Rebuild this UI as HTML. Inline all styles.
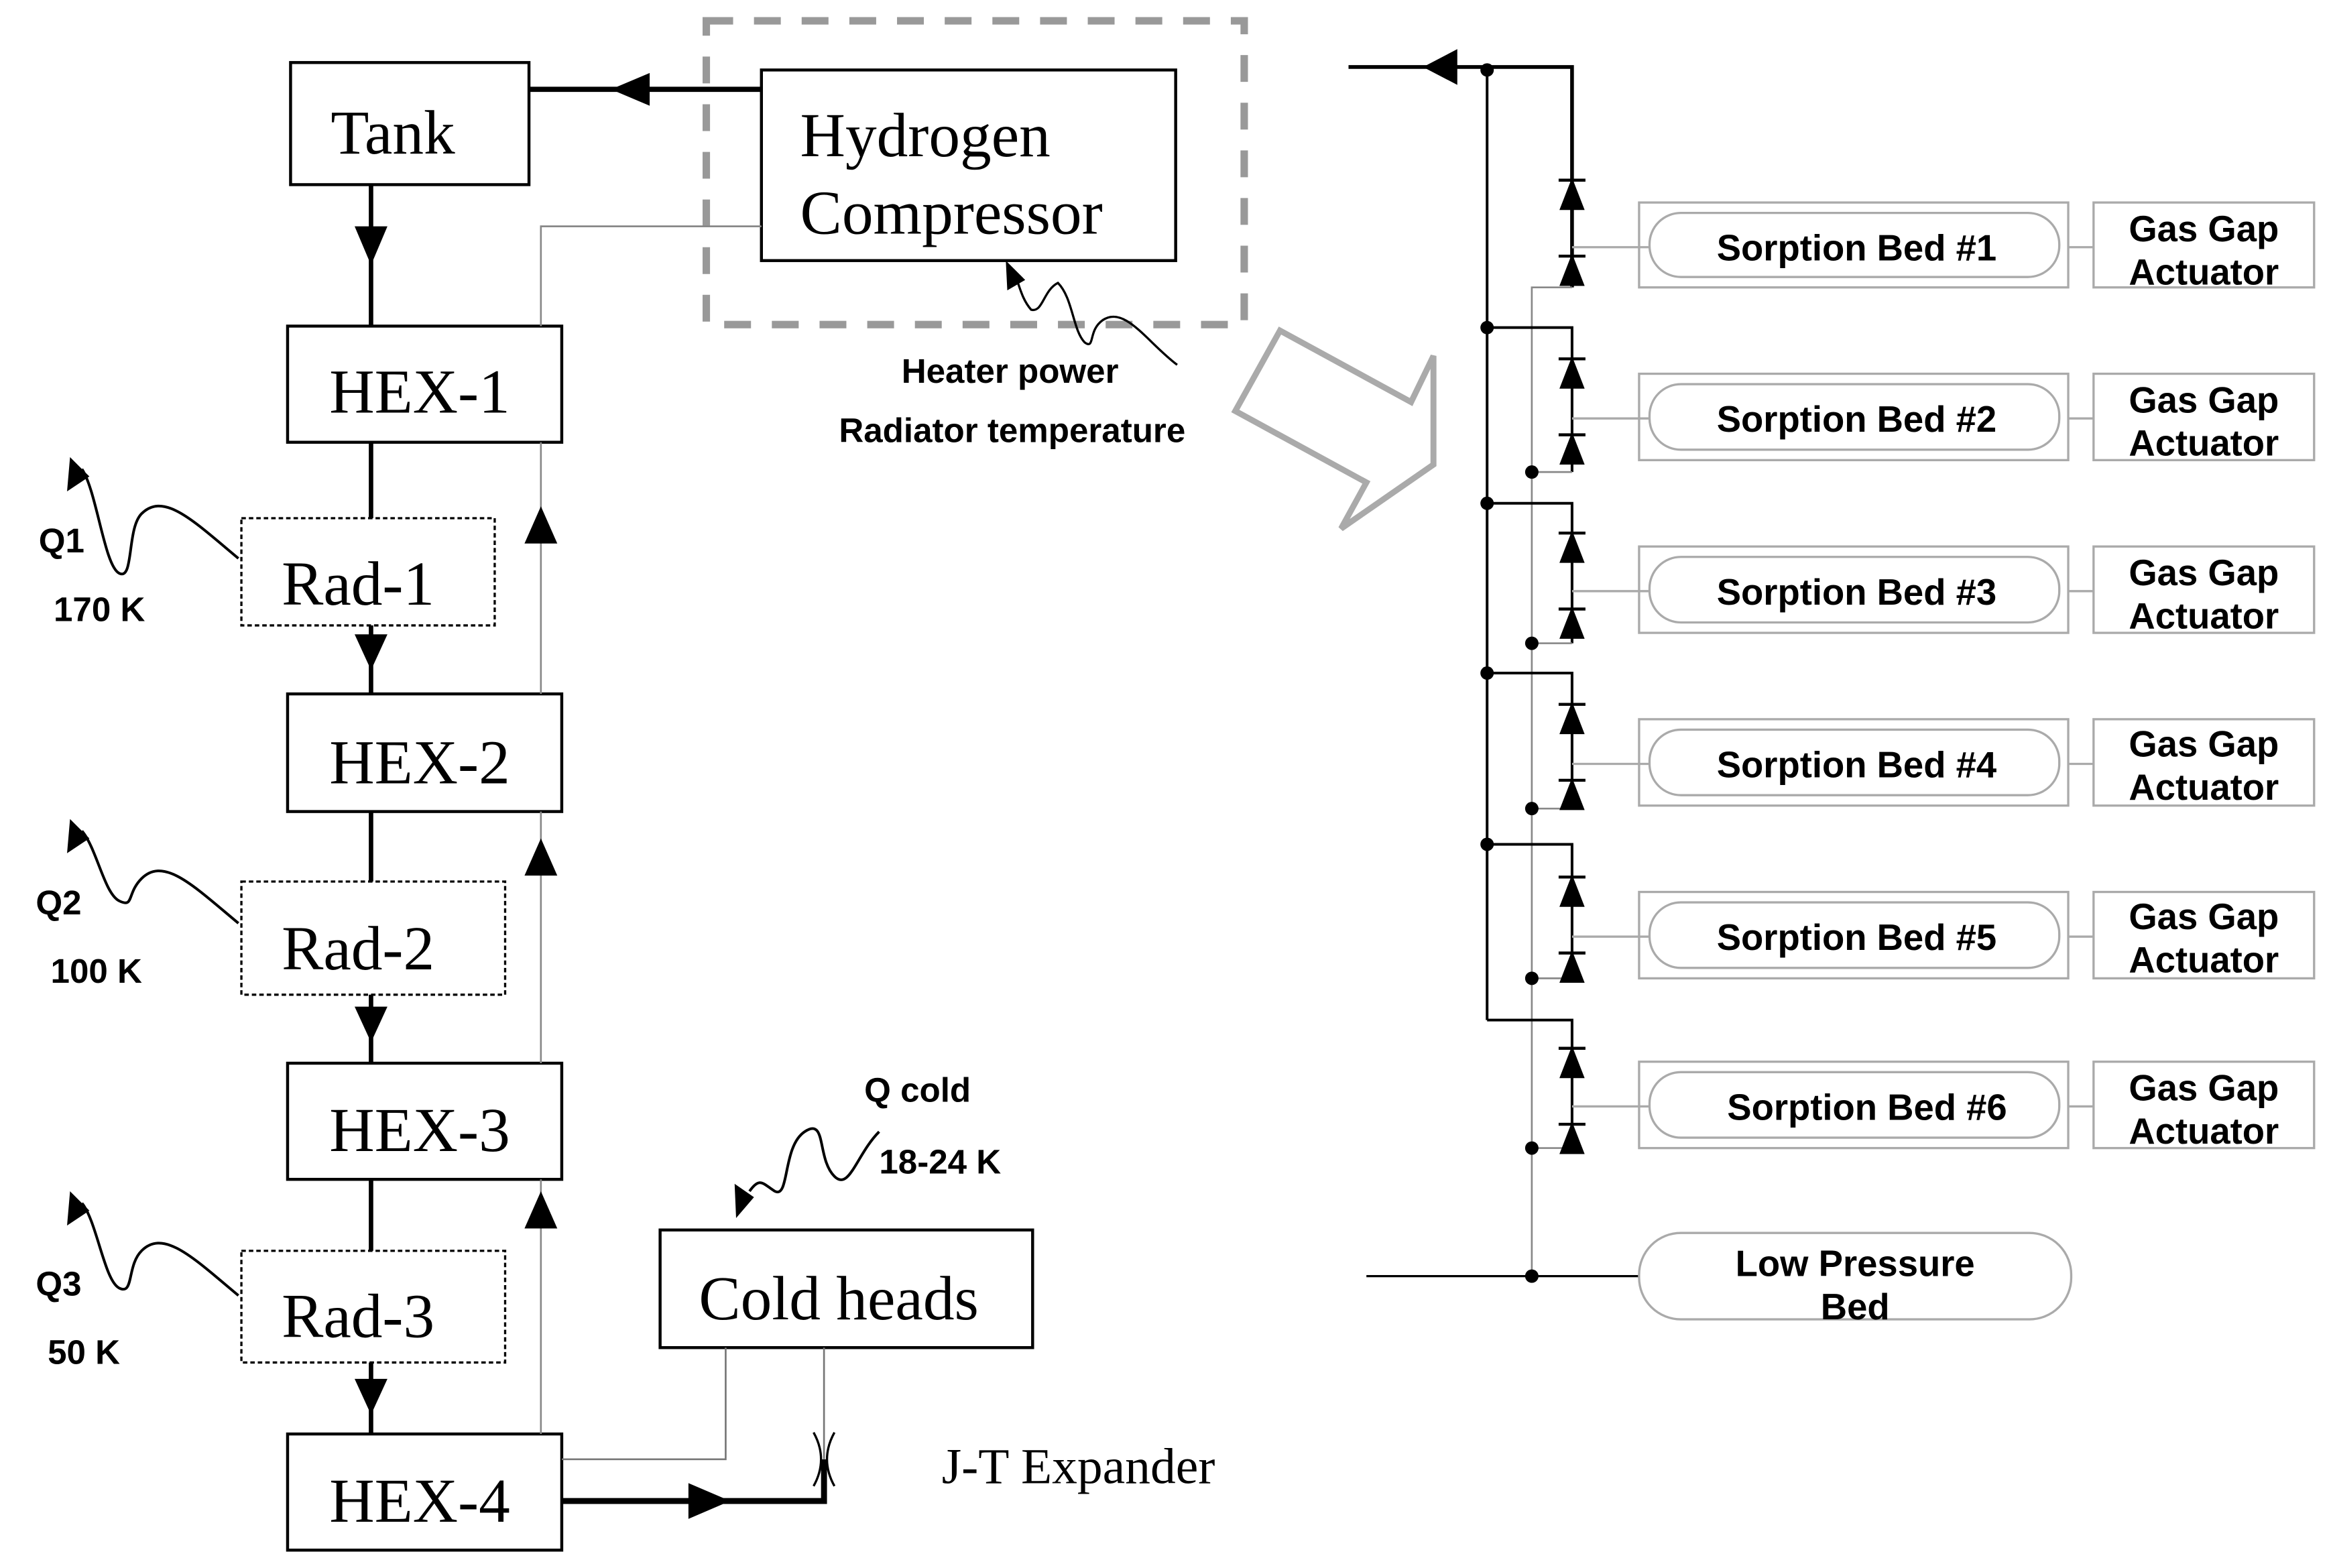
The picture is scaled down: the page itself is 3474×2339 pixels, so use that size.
<!DOCTYPE html>
<html><head><meta charset="utf-8"><style>
html,body{margin:0;padding:0;background:#fff;}
svg{display:block;}
.tr{font-family:"Liberation Serif",serif;font-size:42px;fill:#000;}
.ar{font-family:"Liberation Sans",sans-serif;font-weight:bold;fill:#000;}
</style></head><body>
<svg width="3474" height="2339" viewBox="0 0 1563 1053" preserveAspectRatio="none" xmlns="http://www.w3.org/2000/svg">
<g fill="none" stroke="#000">
<rect x="195" y="42" width="160" height="82" stroke-width="2"/>
<rect x="511" y="47" width="278" height="128" stroke-width="2"/>
<rect x="474" y="14" width="361" height="204" stroke="#999" stroke-width="5" stroke-dasharray="18,14"/>
<rect x="193" y="219" width="184" height="78" stroke-width="2"/>
<rect x="193" y="466" width="184" height="79" stroke-width="2"/>
<rect x="193" y="714" width="184" height="78" stroke-width="2"/>
<rect x="193" y="963" width="184" height="78" stroke-width="2"/>
<rect x="162" y="348" width="170" height="72" stroke-width="1.5" stroke-dasharray="3,2"/>
<rect x="162" y="592" width="177" height="76" stroke-width="1.5" stroke-dasharray="3,2"/>
<rect x="162" y="840" width="177" height="75" stroke-width="1.5" stroke-dasharray="3,2"/>
<rect x="443" y="826" width="250" height="79" stroke-width="2"/>
<path d="M355 60 H511" stroke-width="3.5"/>
<path d="M249 124 V219 M249 297 V348 M249 420 V466 M249 545 V592 M249 668 V714 M249 792 V840 M249 915 V963" stroke-width="3"/>
<path d="M377 1008 H553 V980" stroke-width="4"/>
<path d="M363 963 V792 M363 714 V545 M363 466 V297 M363 219 V152 H511" stroke="#888" stroke-width="1.2"/>
<path d="M377 980 H487 V905 M553 980 V905" stroke="#777" stroke-width="1.2"/>
<path d="M546 962 Q556 980 546 998 M560 962 Q550 980 560 998" stroke-width="1.5"/>
<path d="M160 375 C130 350 110 330 95 345 C85 355 90 390 80 385 C70 380 65 330 55 315" stroke-width="1.8"/>
<path d="M160 620 C130 595 110 575 95 590 C85 600 90 610 80 605 C70 600 65 570 55 558" stroke-width="1.8"/>
<path d="M160 870 C130 845 110 825 95 840 C85 850 90 870 80 865 C70 860 65 820 55 808" stroke-width="1.8"/>
<path d="M590 760 C575 775 570 800 560 790 C548 778 555 750 540 760 C525 770 530 805 520 800 C512 795 510 790 503 800" stroke-width="1.8"/>
<path d="M790 245 C770 230 755 205 740 215 C730 222 735 235 728 230 C720 222 720 200 710 190 C700 195 700 210 692 208 C685 200 684 190 680 182" stroke-width="1.5"/>
<path d="M905 45 H1055 V193" stroke-width="2.5"/>
<path d="M998 45 V685" stroke-width="1.8"/>
<path d="M1055 193 H1028 V857" stroke="#888" stroke-width="1.2"/>
<path d="M998 220 H1055 V317 M998 338 H1055 V432 M998 452 H1055 V543 M998 567 H1055 V657 M998 685 H1055 V771" stroke-width="1.8"/>
<path d="M1055 317 H1028 M1055 432 H1028 M1055 543 H1028 M1055 657 H1028 M1055 771 H1028" stroke="#888" stroke-width="1.2"/>
<path d="M917 857 H1100" stroke-width="1.5"/>
<g stroke="#aaa" stroke-width="1.5">
<rect x="1100" y="136" width="288" height="57"/><rect x="1405" y="136" width="148" height="57"/>
<rect x="1100" y="251" width="288" height="58"/><rect x="1405" y="251" width="148" height="58"/>
<rect x="1100" y="367" width="288" height="58"/><rect x="1405" y="367" width="148" height="58"/>
<rect x="1100" y="483" width="288" height="58"/><rect x="1405" y="483" width="148" height="58"/>
<rect x="1100" y="599" width="288" height="58"/><rect x="1405" y="599" width="148" height="58"/>
<rect x="1100" y="713" width="288" height="58"/><rect x="1405" y="713" width="148" height="58"/>
<rect x="1107" y="143" width="275" height="43" rx="21"/>
<rect x="1107" y="258" width="275" height="44" rx="21"/>
<rect x="1107" y="374" width="275" height="44" rx="21"/>
<rect x="1107" y="490" width="275" height="44" rx="21"/>
<rect x="1107" y="606" width="275" height="44" rx="21"/>
<rect x="1107" y="720" width="275" height="44" rx="21"/>
<rect x="1100" y="828" width="290" height="58" rx="28"/>
<path d="M1055 166 H1107 M1388 166 H1405 M1055 281 H1107 M1388 281 H1405 M1055 397 H1107 M1388 397 H1405 M1055 513 H1107 M1388 513 H1405 M1055 629 H1107 M1388 629 H1405 M1055 743 H1107 M1388 743 H1405"/>
</g>
<polygon points="859,222 947,270 962,239 962,312 900,355 917,324 829,276" stroke="#aaa" stroke-width="4"/>
</g>
<g fill="#000">
<polygon points="410,60 436,49 436,71"/>
<polygon points="249,178 238,152 260,152"/>
<polygon points="249,450 238,426 260,426"/>
<polygon points="249,700 238,676 260,676"/>
<polygon points="249,950 238,926 260,926"/>
<polygon points="363,340 352,365 374,365"/>
<polygon points="363,563 352,588 374,588"/>
<polygon points="363,800 352,825 374,825"/>
<polygon points="490,1008 462,996 462,1020"/>
<polygon points="955,45 978,33 978,57"/>
<polygon points="47,307 45,330 60,320"/>
<polygon points="47,550 45,573 60,563"/>
<polygon points="47,800 45,823 60,813"/>
<polygon points="494,818 493,795 506,804"/>
<polygon points="675,175 676,195 688,188"/>
<circle cx="998" cy="47" r="4.5"/><circle cx="998" cy="220" r="4.5"/><circle cx="998" cy="338" r="4.5"/><circle cx="998" cy="452" r="4.5"/><circle cx="998" cy="567" r="4.5"/>
<circle cx="1028" cy="317" r="4.5"/><circle cx="1028" cy="432" r="4.5"/><circle cx="1028" cy="543" r="4.5"/><circle cx="1028" cy="657" r="4.5"/><circle cx="1028" cy="771" r="4.5"/><circle cx="1028" cy="857" r="4.5"/>
</g>
<g fill="#000" stroke="#000" stroke-width="2">
<g id="d"><polygon points="1055,122 1048,140 1062,140"/><path d="M1046 121 H1064"/><polygon points="1055,173 1048,191 1062,191"/><path d="M1046 172 H1064"/></g>
<use href="#d" transform="translate(0,120)"/>
<use href="#d" transform="translate(0,237)"/>
<use href="#d" transform="translate(0,352)"/>
<use href="#d" transform="translate(0,468)"/>
<use href="#d" transform="translate(0,583)"/>
</g>
<g class="tr">
<text x="222" y="103">Tank</text>
<text x="537" y="105">Hydrogen</text>
<text x="537" y="157">Compressor</text>
<text x="221" y="277">HEX-1</text>
<text x="221" y="526">HEX-2</text>
<text x="221" y="773">HEX-3</text>
<text x="221" y="1022">HEX-4</text>
<text x="189" y="406">Rad-1</text>
<text x="189" y="651">Rad-2</text>
<text x="189" y="898">Rad-3</text>
<text x="469" y="886">Cold heads</text>
<text x="632" y="996" style="font-size:34px">J-T Expander</text>
</g>
<g class="ar" font-size="23">
<text x="605" y="257">Heater power</text>
<text x="563" y="297">Radiator temperature</text>
<text x="26" y="371">Q1</text><text x="36" y="417">170 K</text>
<text x="24" y="614">Q2</text><text x="34" y="660">100 K</text>
<text x="24" y="870">Q3</text><text x="32" y="916">50 K</text>
<text x="580" y="740">Q cold</text><text x="590" y="788">18-24 K</text>
</g>
<g class="ar" font-size="24.5">
<text x="1246" y="175" text-anchor="middle">Sorption Bed #1</text>
<text x="1246" y="290" text-anchor="middle">Sorption Bed #2</text>
<text x="1246" y="406" text-anchor="middle">Sorption Bed #3</text>
<text x="1246" y="522" text-anchor="middle">Sorption Bed #4</text>
<text x="1246" y="638" text-anchor="middle">Sorption Bed #5</text>
<text x="1253" y="752" text-anchor="middle">Sorption Bed #6</text>
<text x="1245" y="857" text-anchor="middle">Low Pressure</text>
<text x="1245" y="886" text-anchor="middle">Bed</text>
<g text-anchor="middle">
<text x="1479" y="162">Gas Gap</text><text x="1479" y="191">Actuator</text>
<text x="1479" y="277">Gas Gap</text><text x="1479" y="306">Actuator</text>
<text x="1479" y="393">Gas Gap</text><text x="1479" y="422">Actuator</text>
<text x="1479" y="508">Gas Gap</text><text x="1479" y="537">Actuator</text>
<text x="1479" y="624">Gas Gap</text><text x="1479" y="653">Actuator</text>
<text x="1479" y="739">Gas Gap</text><text x="1479" y="768">Actuator</text>
</g>
</g>
</svg>
</body></html>
